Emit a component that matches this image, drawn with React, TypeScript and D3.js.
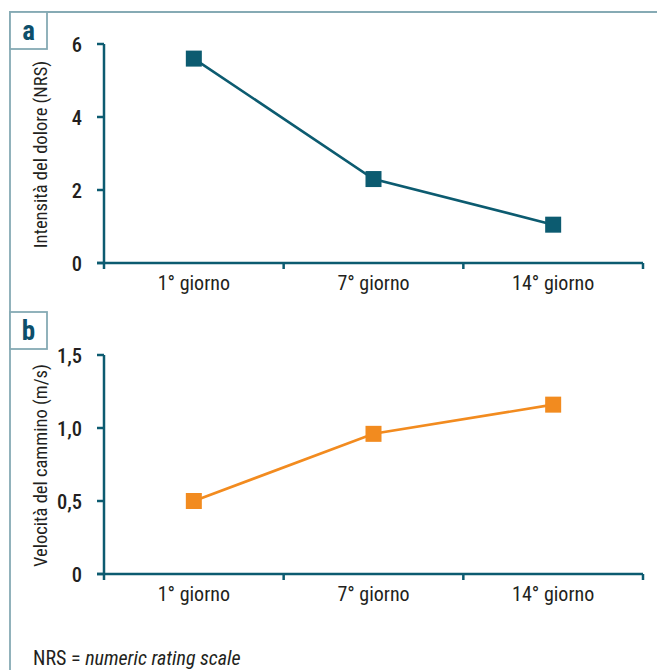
import React, { useEffect, useRef } from "react";
import * as d3 from "d3";

const categories = ["1° giorno", "7° giorno", "14° giorno"];
const painValues = [5.6, 2.3, 1.05];
const painTicks = [0, 2, 4, 6];
const speedValues = [0.5, 0.96, 1.16];
const speedTicks = [0, 0.5, 1.0, 1.5];

const teal = "#0c5b70";
const orange = "#f28b1f";
const frameColor = "#86aab4";
const textColor = "#231f20";
const font = "'Liberation Sans Narrow', 'Arial Narrow', 'Roboto Condensed', sans-serif";

const App = () => {
  const svgRef = useRef<SVGSVGElement | null>(null);

  useEffect(() => {
    const width = 657;
    const height = 670;
    const svg = d3.select(svgRef.current);
    svg.selectAll("*").remove();
    svg.attr("width", width).attr("height", height);

    svg.append("rect").attr("width", width).attr("height", height).attr("fill", "#fff");

    // outer frame (top + left)
    svg.append("path")
      .attr("d", `M10,${height} L10,12 L${width},12`)
      .attr("fill", "none")
      .attr("stroke", frameColor)
      .attr("stroke-width", 1.8);

    const x = d3.scaleBand().domain(categories).range([104, 643]);

    const panel = (opts: {
      top: number;
      letter: string;
      yMin: number;
      yMax: number;
      max: number;
      ticks: number[];
      values: number[];
      color: string;
      title: string;
      fmt: (d: number) => string;
    }) => {
      const g = svg.append("g");

      // letter box
      g.append("rect")
        .attr("x", 10)
        .attr("y", opts.top)
        .attr("width", 37)
        .attr("height", 37)
        .attr("fill", "#fff")
        .attr("stroke", frameColor)
        .attr("stroke-width", 1.8);
      g.append("text")
        .attr("x", 28.5)
        .attr("y", opts.top + 28)
        .attr("text-anchor", "middle")
        .attr("fill", "#0d4f6b")
        .style("font-family", font)
        .style("font-weight", "bold")
        .style("font-size", "27px")
        .text(opts.letter);

      const y = d3.scaleLinear().domain([0, opts.max]).range([opts.yMin, opts.yMax]);

      // y axis
      g.append("line")
        .attr("x1", 104).attr("x2", 104)
        .attr("y1", y(opts.max)).attr("y2", y(0))
        .attr("stroke", teal).attr("stroke-width", 2.5);
      g.selectAll(".ytick")
        .data(opts.ticks)
        .enter()
        .append("line")
        .attr("x1", 97).attr("x2", 104)
        .attr("y1", (d) => y(d)).attr("y2", (d) => y(d))
        .attr("stroke", teal).attr("stroke-width", 2.5);
      g.selectAll(".ylab")
        .data(opts.ticks)
        .enter()
        .append("text")
        .attr("x", 82)
        .attr("y", (d) => y(d) + 7.5)
        .attr("text-anchor", "end")
        .attr("fill", textColor)
        .style("font-family", font)
        .style("font-weight", 500)
        .style("font-size", "20.5px")
        .text((d) => opts.fmt(d));

      // x axis
      g.append("line")
        .attr("x1", 97).attr("x2", 643)
        .attr("y1", y(0)).attr("y2", y(0))
        .attr("stroke", teal).attr("stroke-width", 2.5);
      const edges = [...categories.map((c) => x(c) as number), 643];
      g.selectAll(".xtick")
        .data(edges)
        .enter()
        .append("line")
        .attr("x1", (d) => d).attr("x2", (d) => d)
        .attr("y1", y(0)).attr("y2", y(0) + 6)
        .attr("stroke", teal).attr("stroke-width", 2.5);
      g.selectAll(".xlab")
        .data(categories)
        .enter()
        .append("text")
        .attr("x", (d) => (x(d) as number) + x.bandwidth() / 2)
        .attr("y", y(0) + 27)
        .attr("text-anchor", "middle")
        .attr("fill", textColor)
        .style("font-family", font)
        .style("font-size", "20px")
        .text((d) => d);

      // axis title
      g.append("text")
        .attr("transform", `translate(47,${(y(0) + y(opts.max)) / 2 + 1}) rotate(-90)`)
        .attr("text-anchor", "middle")
        .attr("fill", textColor)
        .style("font-family", font)
        .style("font-size", "18.5px")
        .text(opts.title);

      // series line
      const cx = (i: number) => (x(categories[i]) as number) + x.bandwidth() / 2;
      const line = d3.line<number>()
        .x((_, i) => cx(i))
        .y((d) => y(d));
      g.append("path")
        .attr("d", line(opts.values))
        .attr("fill", "none")
        .attr("stroke", opts.color)
        .attr("stroke-width", 2.6);
      g.selectAll(".pt")
        .data(opts.values)
        .enter()
        .append("rect")
        .attr("x", (_, i) => cx(i) - 8)
        .attr("y", (d) => y(d) - 8)
        .attr("width", 16)
        .attr("height", 16)
        .attr("fill", opts.color);
    };

    panel({
      top: 12,
      letter: "a",
      yMin: 263,
      yMax: 44,
      max: 6,
      ticks: painTicks,
      values: painValues,
      color: teal,
      title: "Intensità del dolore (NRS)",
      fmt: (d) => String(d),
    });

    panel({
      top: 312,
      letter: "b",
      yMin: 574,
      yMax: 355,
      max: 1.5,
      ticks: speedTicks,
      values: speedValues,
      color: orange,
      title: "Velocità del cammino (m/s)",
      fmt: (d) => (d === 0 ? "0" : d.toFixed(1).replace(".", ",")),
    });

    // footnote
    const foot = svg.append("text")
      .attr("x", 33)
      .attr("y", 665)
      .attr("fill", textColor)
      .style("font-family", font)
      .style("font-size", "20px");
    foot.append("tspan").text("NRS = ");
    foot.append("tspan").style("font-style", "italic").text("numeric rating scale");
  }, []);

  return <svg ref={svgRef} style={{ display: "block", position: "absolute", left: 0, top: 0 }}></svg>;
};

export default App;
